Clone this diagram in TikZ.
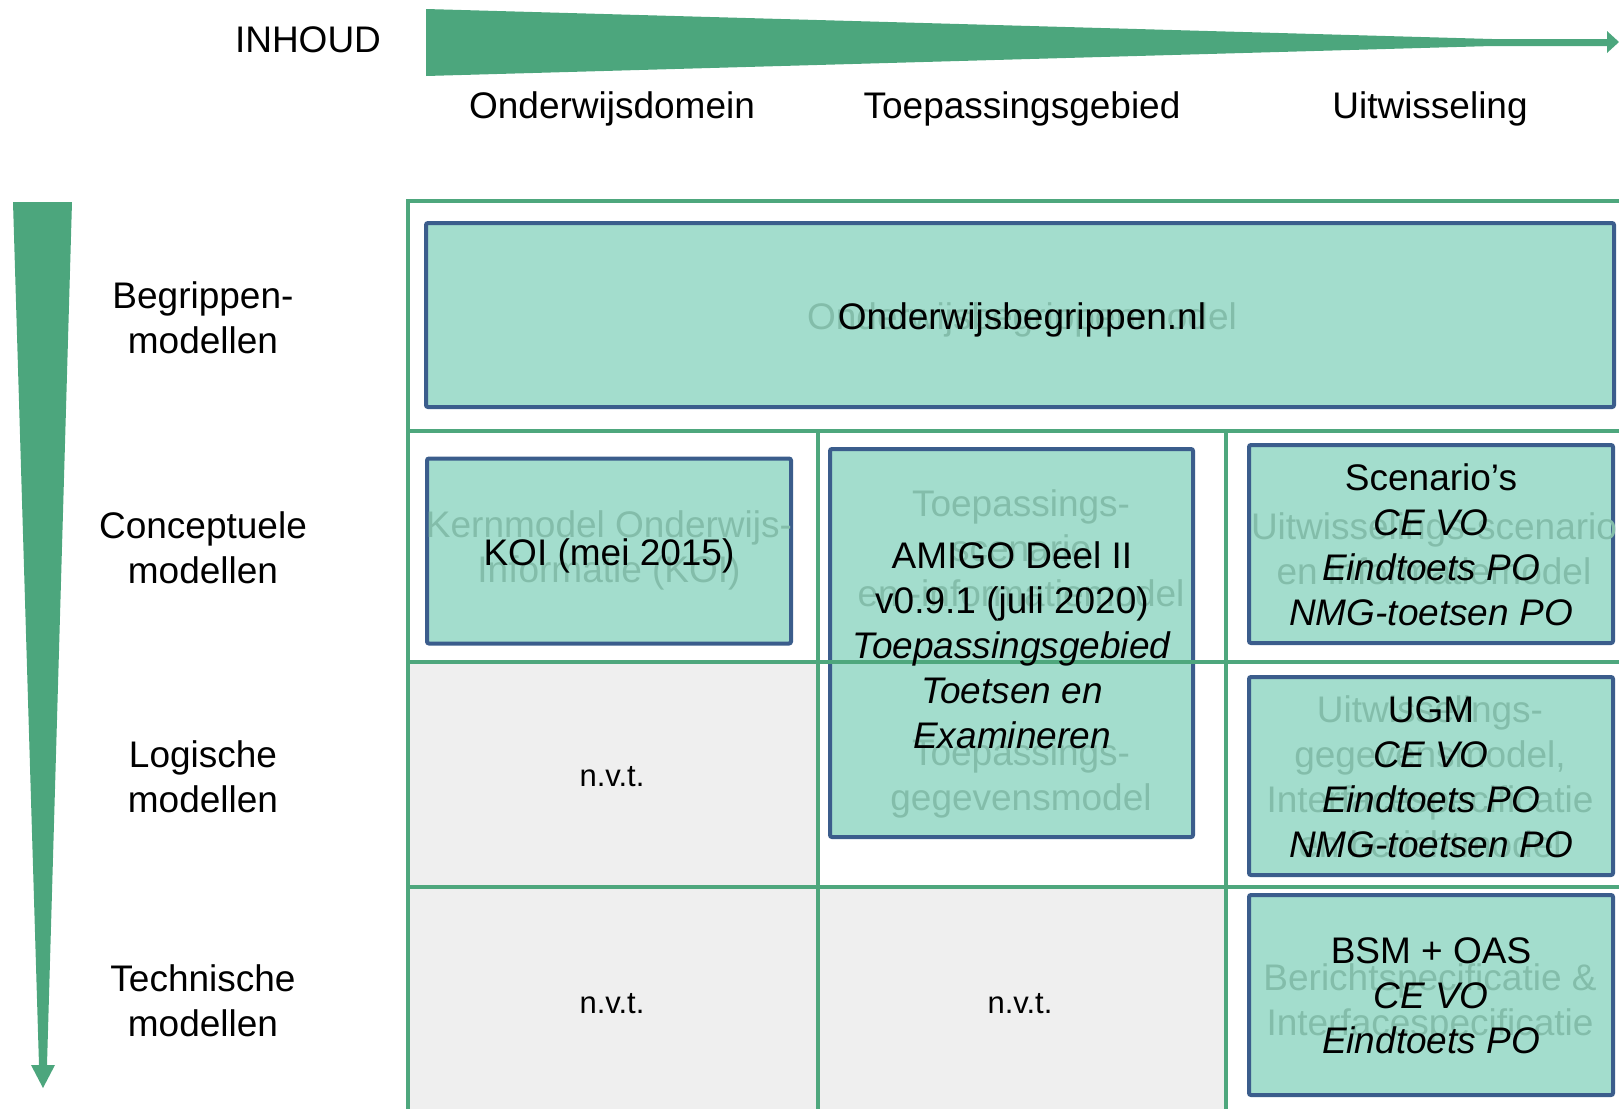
\documentclass[tikz,border=0pt]{standalone}
\usepackage{fontspec}
\setmainfont{Liberation Sans}

\definecolor{pijlgroen}{RGB}{76,166,125}
\definecolor{lijngroen}{RGB}{78,167,125}
\definecolor{blokblauw}{RGB}{59,93,140}
\definecolor{blokvul}{RGB}{163,221,205}
\definecolor{schimkleur}{RGB}{131,189,170}
\definecolor{celgrijs}{RGB}{239,239,239}

\newcommand\groottxt{\fontsize{18.5}{22.5}\selectfont}

\tikzset{
  gridline/.style={draw=lijngroen, line width=2pt},
  blok/.style={draw=blokblauw, fill=blokvul, line width=2pt, rounded corners=1pt, inner sep=0pt},
  tekst/.style={font=\groottxt, align=center, inner sep=0pt},
  schim/.style={tekst, text=schimkleur},
  nvt/.style={font=\fontsize{15.5}{18}\selectfont, inner sep=0pt}
}

\begin{document}
\begin{tikzpicture}[x=0.5pt,y=-0.5pt]
            \useasboundingbox (0,0) rectangle (1619,1109);

            % pijlen
            \fill[pijlgroen] (426,9) -- (1492,39) -- (1607,39) -- (1607,31) -- (1619,42)
                -- (1607,53) -- (1607,46) -- (1492,46) -- (426,76) -- cycle;
            \fill[pijlgroen] (13,202) -- (72,202) -- (47,1065) -- (55,1065) -- (43,1088)
                -- (31,1065) -- (39,1065) -- cycle;

            \node (inhoud) at (308,40) [tekst] {INHOUD};
            \node (domein) at (612,109) [tekst] {Onderwijsdomein};
            \node (toep) at (1022,109) [tekst] {Toepassingsgebied};
            \node (uitw) at (1430,109) [tekst] {Uitwisseling};

            \node (begr) at (203,318) [tekst] {Begrippen-\\modellen};
            \node (conc) at (203,548) [tekst] {Conceptuele\\modellen};
            \node (logi) at (203,777) [tekst] {Logische\\modellen};
            \node (tech) at (203,1001) [tekst] {Technische\\modellen};

            % grijze cellen
            \fill[celgrijs] (408,662) rectangle (818,1109);
            \fill[celgrijs] (818,887) rectangle (1226,1109);

            % blokken
            \node (obm) at (1020,315) [blok, minimum width=594pt, minimum height=92pt] {};
            \node (koi) at (609,551) [blok, minimum width=182pt, minimum height=92.5pt] {};
            \node (amigo) at (1011.5,643) [blok, minimum width=181.5pt, minimum height=194pt] {};
            \node (scen) at (1431,544) [blok, minimum width=182pt, minimum height=99pt] {};
            \node (ugm) at (1431,776) [blok, minimum width=182pt, minimum height=99pt] {};
            \node (bsm) at (1431,995) [blok, minimum width=182pt, minimum height=100pt] {};

            % raster
            \draw[gridline] (406,201) -- (1619,201);
            \draw[gridline] (408,199) -- (408,1109);
            \foreach \y in {431,662,887}
                \draw[gridline] (408,\y) -- (1619,\y);
            \foreach \x in {818,1226}
                \draw[gridline] (\x,431) -- (\x,1109);

            % schimtekst
            \node (obm-s) at (1022,320) [schim] {Onderwijsbegrippenmodel};
            \node (koi-s) at (609,550) [schim] {Kernmodel Onderwijs-\\Informatie (KOI)};
            \node (amigo-s1) at (1021,548) [schim] {Toepassings-\\scenario\\en -informatiemodel};
            \node (amigo-s2) at (1021,778) [schim] {Toepassings-\\gegevensmodel};
            \node (scen-s) at (1434,549) [schim] {Uitwisselings-scenario\\en informatiemodel};
            \node (ugm-s) at (1430,777) [schim] {Uitwisselings-\\gegevensmodel,\\Interfacespecificatie\\en berichtmodel};
            \node (bsm-s) at (1430,1003) [schim] {Berichtspecificatie \&\\Interfacespecificatie};

            % tekst
            \node (obm-t) at (1022,320) [tekst] {Onderwijsbegrippen.nl};
            \node (koi-t) at (609,556) [tekst] {KOI (mei 2015)};
            \node (amigo-t) at (1012,645) [tekst] {AMIGO Deel II\\v0.9.1 (juli 2020)\\\textit{Toepassingsgebied}\\\textit{Toetsen en}\\\textit{Examineren}};
            \node (scen-t) at (1431,545) [tekst] {Scenario’s\\\textit{CE VO}\\\textit{Eindtoets PO}\\\textit{NMG-toetsen PO}};
            \node (ugm-t) at (1431,777) [tekst] {UGM\\\textit{CE VO}\\\textit{Eindtoets PO}\\\textit{NMG-toetsen PO}};
            \node (bsm-t) at (1431,996) [tekst] {BSM + OAS\\\textit{CE VO}\\\textit{Eindtoets PO}};

            \node (nvt1) at (612,777) [nvt] {n.v.t.};
            \node (nvt2) at (612,1004) [nvt] {n.v.t.};
            \node (nvt3) at (1020,1004) [nvt] {n.v.t.};
\end{tikzpicture}
\end{document}
